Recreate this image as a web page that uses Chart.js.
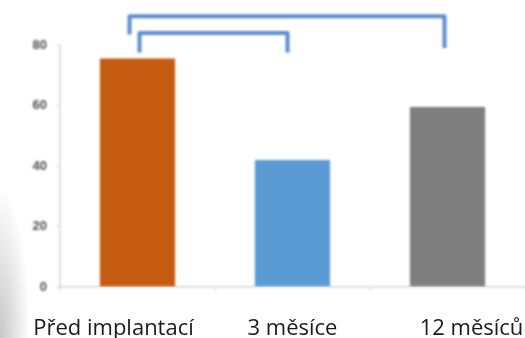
<!DOCTYPE html>
<html>
<head>
<meta charset="utf-8">
<script src="https://cdn.jsdelivr.net/npm/chart.js@4/dist/chart.umd.min.js"></script>
<style>
  html, body { margin: 0; padding: 0; background: #fff; }
  #wrap {
    position: relative; width: 525px; height: 338px;
    background: radial-gradient(ellipse 30px 150px at 0 100%, rgba(130,130,130,0.45), rgba(255,255,255,0) 100%);
  }
  canvas { display: block; }
</style>
</head>
<body>
<div id="wrap"><canvas id="chart" width="525" height="338"></canvas></div>
<script>
const categories = ['Před implantací', '3 měsíce', '12 měsíců'];
const values = [75.5, 42, 59.5];
const barColors = ['#C55A11', '#5B9BD5', '#7F7F7F'];
const yTicks = [0, 20, 40, 60, 80];

// significance brackets: [from bar, to bar, top value, left leg end, right leg end]
const brackets = [
    [0, 2, 89.5, 83.5, 79],
    [0, 1, 84, 77.5, 77.5]
];

// brackets + category labels; everything before the labels is drawn slightly soft
const slidePlugin = {
    id: 'slide',
    beforeDraw(chart) {
        chart.ctx.save();
        chart.ctx.filter = 'blur(1px)';
    },
    afterDraw(chart) {
        const ctx = chart.ctx;
        const x = chart.scales.x, y = chart.scales.y;
        ctx.save();
        ctx.strokeStyle = '#5B8DCD';
        ctx.lineWidth = 4;
        ctx.lineJoin = 'round';
        ctx.lineCap = 'butt';
        brackets.forEach(([a, b, top, la, lb], i) => {
            const xa = x.getPixelForValue(a) + (i === 0 ? -8 : 2);
            const xb = x.getPixelForValue(b) + (i === 0 ? -3 : -5);
            ctx.beginPath();
            ctx.moveTo(xa, y.getPixelForValue(la));
            ctx.lineTo(xa, y.getPixelForValue(top));
            ctx.lineTo(xb, y.getPixelForValue(top));
            ctx.lineTo(xb, y.getPixelForValue(lb));
            ctx.stroke();
        });
        ctx.restore();
        ctx.restore();   // drop the blur for the labels

        ctx.save();
        ctx.font = '22px "Open Sans", sans-serif';
        ctx.fillStyle = '#1a1a1a';
        ctx.textAlign = 'center';
        ctx.textBaseline = 'alphabetic';
        categories.forEach((c, i) => {
            const cx = x.getPixelForValue(i) + (i - 1) * 24;
            ctx.fillText(c, cx, 335);
        });
        ctx.restore();
    }
};

new Chart(document.getElementById('chart'), {
    type: 'bar',
    data: {
        labels: categories,
        datasets: [{
            data: values,
            backgroundColor: barColors,
            barPercentage: 0.97,
            categoryPercentage: 0.5
        }]
    },
    options: {
        responsive: false,
        animation: false,
        layout: { padding: { top: 45, right: 0, left: 0, bottom: 0 } },
        plugins: { legend: { display: false }, tooltip: { enabled: false } },
        scales: {
            x: {
                afterFit: s => { s.height = 51; },
                ticks: { display: false },
                border: { color: '#d4d4d4', width: 1.5 },
                grid: { offset: true, drawOnChartArea: false, tickLength: 4, color: '#d4d4d4' }
            },
            y: {
                min: 0, max: 80,
                afterFit: s => { s.width = 60; },
                afterBuildTicks: s => { s.ticks = yTicks.map(v => ({ value: v })); },
                ticks: { color: '#505050', font: { size: 13, weight: 'bold', family: 'Liberation Sans' }, padding: 9 },
                border: { color: '#d4d4d4', width: 1.5 },
                grid: { drawOnChartArea: false, tickLength: 4, color: '#d4d4d4' }
            }
        }
    },
    plugins: [slidePlugin]
});
</script>
</body>
</html>
